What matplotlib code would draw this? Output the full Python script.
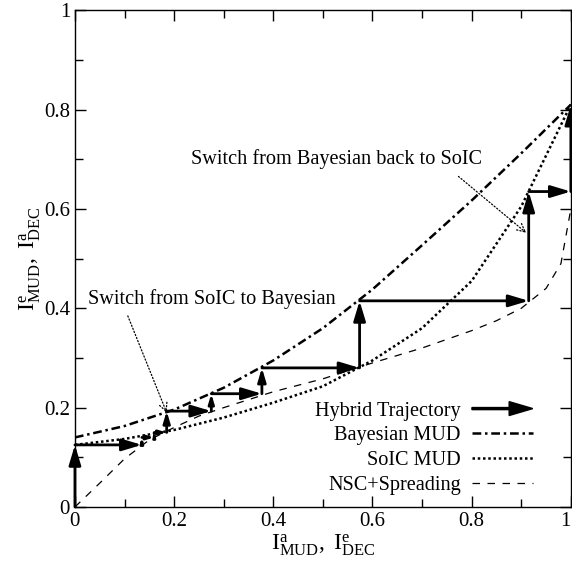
import matplotlib
matplotlib.use("Agg")
import matplotlib.pyplot as plt
import numpy as np
from matplotlib.patches import FancyArrow
from matplotlib.legend_handler import HandlerPatch
from matplotlib.ticker import MultipleLocator

plt.rcParams['font.family'] = ['Liberation Serif', 'DejaVu Serif']
plt.rcParams['mathtext.fontset'] = 'custom'
plt.rcParams['mathtext.rm'] = 'Liberation Serif'
plt.rcParams['mathtext.it'] = 'Liberation Serif:italic'

# EXIT curves
bayes_x = [0.0, 0.1, 0.2, 0.3, 0.4, 0.5, 0.6, 0.7, 0.8, 0.9, 1.0]
bayes_y = [0.14, 0.163, 0.196, 0.24, 0.295, 0.36, 0.438, 0.527, 0.617, 0.712, 0.81]

soic_x = [0.0, 0.1, 0.2, 0.3, 0.4, 0.5, 0.6, 0.7, 0.8, 0.9, 1.0]
soic_y = [0.125, 0.137, 0.155, 0.18, 0.21, 0.243, 0.295, 0.36, 0.455, 0.605, 0.81]

nsc_x = [0.0, 0.05, 0.1, 0.15, 0.2, 0.25, 0.3, 0.4, 0.5, 0.6, 0.7, 0.8, 0.85, 0.9, 0.95, 0.98, 1.0]
nsc_y = [0.0, 0.048, 0.097, 0.135, 0.16, 0.183, 0.2, 0.232, 0.258, 0.29, 0.32, 0.355, 0.375, 0.4, 0.44, 0.49, 0.6]

# hybrid decoding trajectory
traj_x = [0.0, 0.0, 0.135, 0.135, 0.16, 0.16, 0.185, 0.185, 0.275, 0.275, 0.377, 0.377,
          0.574, 0.574, 0.915, 0.915, 1.0, 1.0]
traj_y = [0.0, 0.125, 0.125, 0.14, 0.14, 0.15, 0.15, 0.193, 0.193, 0.228, 0.228, 0.28,
          0.28, 0.415, 0.415, 0.635, 0.635, 0.81]

ticks = [0, 0.2, 0.4, 0.6, 0.8, 1]
tick_labels = ['0', '0.2', '0.4', '0.6', '0.8', '1']

fig = plt.figure(figsize=(5.72, 5.69), dpi=100)
ax = fig.add_axes([0.131, 0.109, 0.867, 0.873])

l_bayes, = ax.plot(bayes_x, bayes_y, color='black', lw=1.8, linestyle=(0, (3.5, 1.5, 1, 1.5)))
l_soic, = ax.plot(soic_x, soic_y, color='black', lw=1.8, linestyle=(0, (1, 1.1)))
l_nsc, = ax.plot(nsc_x, nsc_y, color='black', lw=0.9, linestyle=(0, (6, 6)))

# trajectory arrows
for i in range(len(traj_x) - 1):
    x0, y0, x1, y1 = traj_x[i], traj_y[i], traj_x[i + 1], traj_y[i + 1]
    seglen = np.hypot(x1 - x0, y1 - y0) * 496
    ms = 20 * min(1.0, seglen / 38.0)
    ax.annotate('', xy=(x1, y1), xytext=(x0, y0), annotation_clip=False,
                arrowprops=dict(arrowstyle='-|>,head_length=0.6,head_width=0.18',
                                mutation_scale=ms, color='black', lw=2,
                                shrinkA=0, shrinkB=0, clip_on=False))

ax.annotate('Switch from SoIC to Bayesian', xy=(0.185, 0.19), xytext=(0.276, 0.418),
            fontsize=14.6, ha='center', va='center',
            arrowprops=dict(arrowstyle='->', linestyle=':', lw=0.9, color='black',
                            relpos=(0.15, 0.0), shrinkA=3, shrinkB=0))
ax.annotate('Switch from Bayesian back to SoIC', xy=(0.91, 0.552), xytext=(0.527, 0.7),
            fontsize=14.6, ha='center', va='center',
            arrowprops=dict(arrowstyle='->', linestyle=':', lw=0.9, color='black',
                            relpos=(0.89, 0.0), shrinkA=5, shrinkB=0))

ax.set_xlim(0, 1)
ax.set_ylim(0, 1)
ax.set_xticks(ticks, tick_labels)
ax.set_yticks(ticks, tick_labels)
ax.xaxis.set_minor_locator(MultipleLocator(0.1))
ax.yaxis.set_minor_locator(MultipleLocator(0.1))
ax.tick_params(which='both', direction='in', top=True, right=True, labelsize=15, width=1)
ax.tick_params(which='major', length=8)
ax.tick_params(which='minor', length=6)
for s in ax.spines.values():
    s.set_linewidth(1)
ax.get_xticklabels()[-1].set_horizontalalignment('right')

ax.set_xlabel(r'$\mathrm{I}^{\mathrm{a}}_{\mathrm{MUD}}\mathrm{,\ I}^{\mathrm{e}}_{\mathrm{DEC}}$', fontsize=17, labelpad=1)
ax.set_ylabel(r'$\mathrm{I}^{\mathrm{e}}_{\mathrm{MUD}}\mathrm{,\ I}^{\mathrm{a}}_{\mathrm{DEC}}$', fontsize=17, labelpad=1)


def make_arrow(legend, orig_handle, xdescent, ydescent, width, height, fontsize):
    return FancyArrow(0, height / 2, width, 0, length_includes_head=True,
                      width=1.5, head_width=10, head_length=17, color='black')


arrow_proxy = FancyArrow(0, 0, 1, 0, color='black')
ax.legend([arrow_proxy, l_bayes, l_soic, l_nsc],
          ['Hybrid Trajectory', 'Bayesian MUD', 'SoIC MUD', 'NSC+Spreading'],
          loc='lower right', bbox_to_anchor=(0.96, -0.012), frameon=False,
          markerfirst=False, fontsize=14.6, handlelength=3.0, handletextpad=0.55,
          labelspacing=0.27,
          handler_map={FancyArrow: HandlerPatch(patch_func=make_arrow)})

fig.savefig('out.png', dpi=100)
